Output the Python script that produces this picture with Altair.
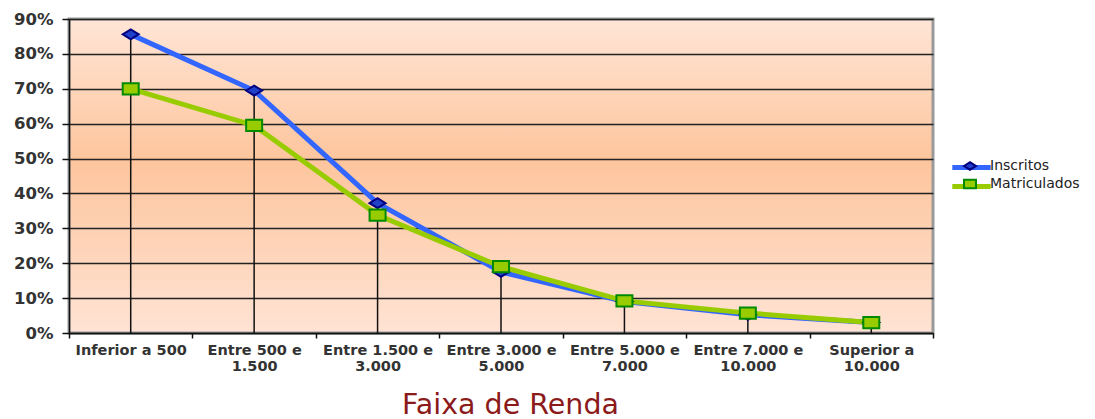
import altair as alt
import pandas as pd

categorias = [
    "Inferior a 500",
    "Entre 500 e\n1.500",
    "Entre 1.500 e\n3.000",
    "Entre 3.000 e\n5.000",
    "Entre 5.000 e\n7.000",
    "Entre 7.000 e\n10.000",
    "Superior a\n10.000",
]
inscritos = [0.856, 0.695, 0.372, 0.175, 0.090, 0.052, 0.030]
matriculados = [0.700, 0.595, 0.338, 0.190, 0.092, 0.057, 0.030]
series = ["Inscritos", "Matriculados"]
y_ticks = [0, 0.1, 0.2, 0.3, 0.4, 0.5, 0.6, 0.7, 0.8, 0.9]

rows = []
for s, vals in zip(series, [inscritos, matriculados]):
    for c, v in zip(categorias, vals):
        rows.append({"cat": c, "serie": s, "serie_linha": s, "valor": v})
df = pd.DataFrame(rows)
df_drop = pd.DataFrame({"cat": categorias, "topo": inscritos})

FONT = "DejaVu Sans"
diamond = "M-1,0L0,-0.62L1,0L0,0.62Z"
square = "M-1,-0.7H1V0.7H-1Z"

x_enc = alt.X(
    "cat:N",
    sort=categorias,
    scale=alt.Scale(domain=categorias, paddingInner=0, paddingOuter=0),
    axis=alt.Axis(
        title="Faixa de Renda",
        titleFont=FONT,
        titleFontSize=28.5,
        titleFontWeight="normal",
        titleColor="#8B1A1A",
        titleX=441,
        titleY=80,
        titleBaseline="alphabetic",
        titleAlign="center",
        labelExpr="isValid(datum.value) ? split(datum.value, '\\n') : ''",
        labelFont=FONT,
        labelFontSize=14.5,
        labelFontWeight="bold",
        labelColor="#333333",
        labelLineHeight=16,
        labelPadding=5,
        labelAngle=0,
        labelOverlap=False,
        labelLimit=300,
        tickBand="extent",
        tickSize=5,
        tickColor="#111111",
        tickWidth=1.5,
        domainColor="#111111",
        domainWidth=1.5,
        grid=False,
    ),
)

y_scale = alt.Scale(domain=[0, 0.9], nice=False)
y_axis = alt.Axis(
    title=None,
    values=y_ticks,
    format=".0%",
    labelFont=FONT,
    labelFontSize=16.5,
    labelFontWeight="bold",
    labelColor="#333333",
    labelPadding=9,
    tickSize=7,
    tickColor="#111111",
    tickWidth=1.5,
    domainColor="#111111",
    domainWidth=1.5,
    grid=True,
    gridColor="#222222",
    gridWidth=1.3,
)

legend_common = dict(
    title=None,
    orient="none",
    legendX=894,
    legendY=140,
    labelFont=FONT,
    labelFontSize=14,
    labelColor="#222222",
    labelOffset=13,
    labelLimit=200,
    symbolSize=144,
    padding=0,
)

drops = alt.Chart(df_drop).mark_rule(color="#111111", strokeWidth=1.5).encode(
    x=x_enc,
    y=alt.Y("topo:Q", scale=y_scale, axis=y_axis),
    y2=alt.datum(0),
)

lines = alt.Chart(df).mark_line(strokeWidth=5).encode(
    x=x_enc,
    y=alt.Y("valor:Q", scale=y_scale, axis=y_axis),
    color=alt.Color(
        "serie_linha:N",
        scale=alt.Scale(range=["#3366FF", "#99CC00"]),
        legend=alt.Legend(
            symbolType="M-3.2,0H3.2",
            symbolStrokeWidth=5,
            labelExpr="''",
            rowPadding=-4,
            zindex=0,
            **legend_common,
        ),
    ),
)

leg_pts = alt.Legend(symbolStrokeWidth=2, zindex=1, rowPadding=1, **legend_common)
points = alt.Chart(df).mark_point(filled=True, size=256, strokeWidth=2, opacity=1).encode(
    x=x_enc,
    y=alt.Y("valor:Q", scale=y_scale, axis=y_axis),
    shape=alt.Shape("serie:N", scale=alt.Scale(domain=series, range=[diamond, square]), legend=leg_pts),
    fill=alt.Fill("serie:N", scale=alt.Scale(domain=series, range=["#2040C8", "#99CC00"]), legend=leg_pts),
    stroke=alt.Stroke("serie:N", scale=alt.Scale(domain=series, range=["#000080", "#008A00"]), legend=leg_pts),
)

gradiente_expr = (
    "{gradient: 'linear', x1: 0, y1: 0, x2: 0, y2: 1, stops: ["
    "{offset: 0, color: '#FFE5D6'}, "
    "{offset: 0.45, color: '#FDC59D'}, "
    "{offset: 1, color: '#FFE3D4'}]}"
)

chart = (
    alt.layer(drops, lines, points)
    .properties(
        width=864,
        height=314,
        autosize="none",
        padding={"left": 61, "top": 11, "right": 154, "bottom": 86},
        background="white",
        view=alt.ViewBackground(fill=alt.ExprRef(expr=gradiente_expr), stroke="#9a9a9a", strokeWidth=3),
    )
)

chart.save("out.html", embed_options={"renderer": "svg", "actions": False})
